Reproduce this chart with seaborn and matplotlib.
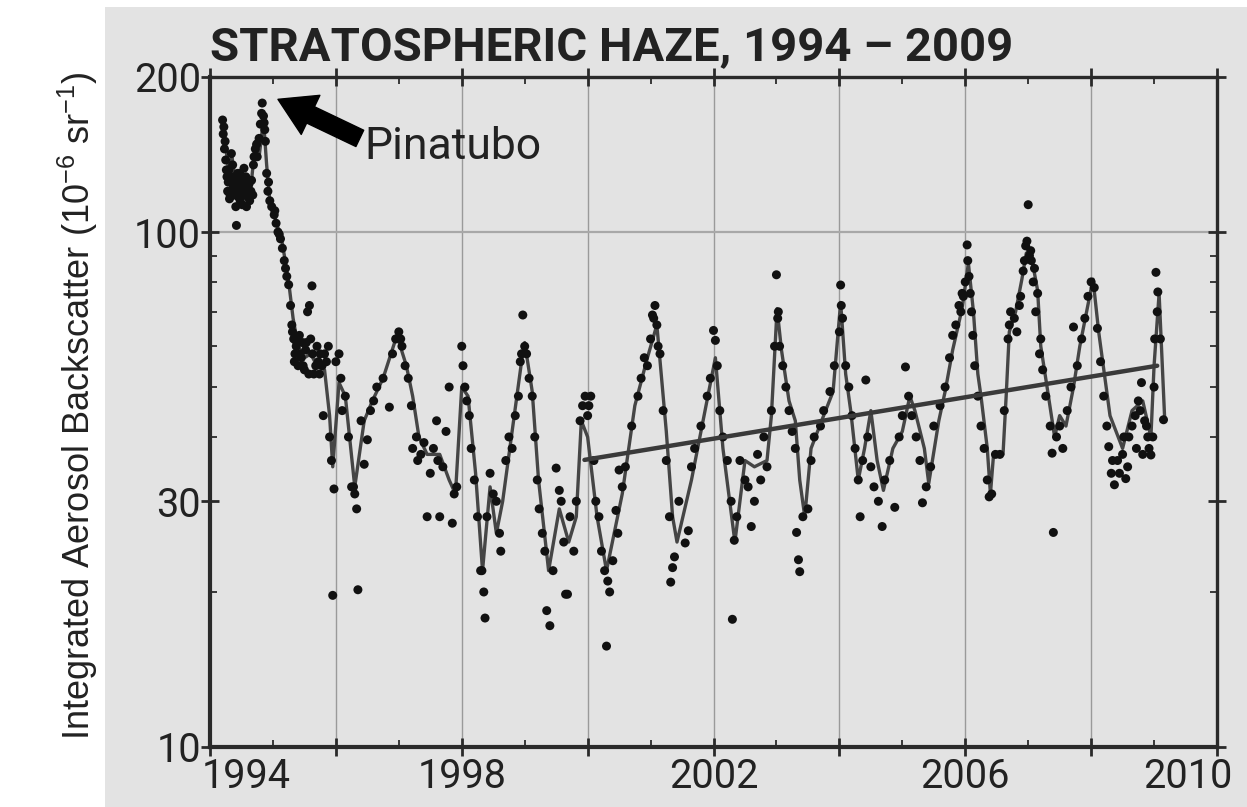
import matplotlib
matplotlib.use("Agg")
import matplotlib.pyplot as plt
import seaborn as sns
from matplotlib.patches import Rectangle
from matplotlib.transforms import ScaledTranslation

# ---------------- data ----------------
line_years = [1994.22, 1994.30, 1994.35, 1994.42, 1994.50, 1994.58, 1994.65, 1994.72, 1994.78, 1994.85,
              1994.90, 1994.95, 1995.05, 1995.15, 1995.25, 1995.32, 1995.40, 1995.50, 1995.60, 1995.70,
              1995.82, 1995.90, 1995.95, 1996.05, 1996.15, 1996.30, 1996.45, 1996.58, 1996.75, 1996.97,
              1997.12, 1997.22, 1997.32, 1997.45, 1997.65, 1997.80, 1997.90, 1998.00, 1998.10, 1998.22,
              1998.33, 1998.45, 1998.55, 1998.65, 1998.80, 1998.95, 1999.00, 1999.12, 1999.22, 1999.38,
              1999.55, 1999.70, 1999.82, 1999.90, 2000.00, 2000.15, 2000.30, 2000.55, 2000.75, 2000.95,
              2001.10, 2001.25, 2001.35, 2001.42, 2001.65, 2001.85, 2002.03, 2002.15, 2002.34, 2002.50,
              2002.65, 2002.85, 2002.92, 2003.01, 2003.08, 2003.20, 2003.30, 2003.37, 2003.45, 2003.55,
              2003.75, 2003.90, 2004.02, 2004.10, 2004.18, 2004.30, 2004.40, 2004.50, 2004.60, 2004.70,
              2004.85, 2005.00, 2005.12, 2005.20, 2005.35, 2005.42, 2005.58, 2005.68, 2005.80, 2005.95,
              2006.05, 2006.13, 2006.20, 2006.25, 2006.35, 2006.40, 2006.45, 2006.60, 2006.65, 2006.70,
              2006.80, 2006.90, 2006.97, 2007.07, 2007.15, 2007.20, 2007.30, 2007.42, 2007.50, 2007.60,
              2007.72, 2007.82, 2008.03, 2008.12, 2008.22, 2008.30, 2008.50, 2008.65, 2008.82, 2008.95,
              2009.00, 2009.08, 2009.17]
line_vals = [158, 130, 140, 120, 128, 118, 122, 150, 140, 165,
             135, 115, 105, 95, 80, 68, 60, 57, 58, 55,
             54, 44, 35, 51, 48, 32, 43, 47, 52, 63,
             55, 48, 40, 37, 37, 33, 31, 50, 48, 34,
             22, 32, 26, 30, 41, 56, 61, 49, 33, 22,
             29, 25, 28, 43, 40, 28, 22, 31, 46, 57,
             66, 41, 28, 25, 33, 44, 57, 38, 25, 36,
             35, 36, 44, 71, 59, 47, 43, 33, 28, 38,
             44, 49, 73, 53, 45, 33, 38, 45, 36, 31.5,
             38, 41, 48, 45, 38, 32.5, 43, 49, 59, 71,
             87, 70, 53, 48, 38, 31, 37, 37, 48, 64,
             70, 81, 91, 87, 77, 60, 50, 40, 44, 42,
             50, 60, 81, 64, 52, 44, 38, 45, 47, 40,
             55, 76, 43]

dot_years = [1994.20, 1994.22, 1994.24, 1994.25, 1994.27, 1994.28, 1994.30, 1994.31, 1994.33, 1994.34,
             1994.36, 1994.37, 1994.38, 1994.40, 1994.41, 1994.42, 1994.44, 1994.46, 1994.48, 1994.50,
             1994.52, 1994.54, 1994.56, 1994.58, 1994.60, 1994.62, 1994.65, 1994.68, 1994.70, 1994.72,
             1994.75, 1994.78, 1994.80, 1994.83, 1994.85, 1994.87, 1994.90, 1994.92, 1994.95, 1994.98,
             1995.02, 1995.05, 1995.08, 1995.12, 1995.15, 1995.18, 1995.22, 1995.25, 1995.28, 1995.30,
             1995.33, 1995.35, 1995.37, 1995.40, 1995.42, 1995.45, 1995.47, 1995.50, 1995.52, 1995.55,
             1995.58, 1995.60, 1995.62, 1995.65, 1995.70, 1995.72, 1995.75, 1995.78, 1995.80, 1995.82,
             1995.88, 1995.90, 1995.93, 1995.95, 1995.97, 1996.00, 1996.05, 1996.08, 1996.10, 1996.15,
             1996.20, 1996.25, 1996.28, 1996.30, 1996.33, 1996.35, 1996.40, 1996.45, 1996.50, 1996.55,
             1996.60, 1996.65, 1996.75, 1996.85, 1996.90, 1996.95, 1997.00, 1997.05, 1997.10, 1997.15,
             1997.20, 1997.22, 1997.28, 1997.30, 1997.35, 1997.40, 1997.45, 1997.50, 1997.55, 1997.60,
             1997.62, 1997.65, 1997.70, 1997.75, 1997.80, 1997.85, 1997.88, 1997.92, 1998.00, 1998.02,
             1998.05, 1998.08, 1998.12, 1998.15, 1998.20, 1998.25, 1998.30, 1998.32, 1998.35, 1998.37,
             1998.40, 1998.45, 1998.50, 1998.55, 1998.60, 1998.62, 1998.70, 1998.75, 1998.80, 1998.85,
             1998.90, 1998.93, 1998.97, 1999.00, 1999.03, 1999.07, 1999.12, 1999.16, 1999.20, 1999.23,
             1999.28, 1999.32, 1999.35, 1999.40, 1999.45, 1999.50, 1999.55, 1999.58, 1999.62, 1999.65,
             1999.68, 1999.72, 1999.78, 1999.82, 1999.88, 1999.92, 1999.96, 2000.00, 2000.05, 2000.10,
             2000.13, 2000.18, 2000.22, 2000.27, 2000.30, 2000.32, 2000.35, 2000.40, 2000.45, 2000.48,
             2000.50, 2000.55, 2000.60, 2000.70, 2000.80, 2000.85, 2000.90, 2000.95, 2001.00, 2001.03,
             2001.07, 2001.10, 2001.15, 2001.20, 2001.25, 2001.30, 2001.32, 2001.35, 2001.38, 2001.45,
             2001.55, 2001.60, 2001.65, 2001.70, 2001.80, 2001.90, 2001.95, 2002.00, 2002.03, 2002.06,
             2002.10, 2002.15, 2002.22, 2002.28, 2002.30, 2002.33, 2002.37, 2002.42, 2002.50, 2002.55,
             2002.60, 2002.65, 2002.70, 2002.75, 2002.80, 2002.85, 2002.92, 2002.97, 2003.00, 2003.02,
             2003.05, 2003.10, 2003.15, 2003.20, 2003.25, 2003.30, 2003.32, 2003.35, 2003.37, 2003.42,
             2003.50, 2003.55, 2003.60, 2003.70, 2003.75, 2003.85, 2003.92, 2004.00, 2004.02, 2004.05,
             2004.10, 2004.15, 2004.20, 2004.25, 2004.30, 2004.33, 2004.37, 2004.42, 2004.45, 2004.50,
             2004.55, 2004.62, 2004.68, 2004.72, 2004.80, 2004.88, 2004.95, 2005.00, 2005.05, 2005.10,
             2005.15, 2005.22, 2005.28, 2005.32, 2005.38, 2005.45, 2005.50, 2005.60, 2005.68, 2005.75,
             2005.80, 2005.85, 2005.90, 2005.95, 2006.00, 2006.03, 2006.06, 2006.10, 2006.15, 2006.20,
             2006.25, 2006.30, 2006.35, 2006.38, 2006.42, 2006.48, 2006.55, 2006.62, 2006.68, 2006.72,
             2006.78, 2006.82, 2006.88, 2006.92, 2006.96, 2007.00, 2007.02, 2007.05, 2007.10, 2007.15,
             2007.20, 2007.23, 2007.28, 2007.35, 2007.38, 2007.40, 2007.45, 2007.50, 2007.55, 2007.62,
             2007.68, 2007.72, 2007.78, 2007.85, 2007.90, 2007.95, 2008.00, 2008.05, 2008.10, 2008.15,
             2008.20, 2008.25, 2008.28, 2008.32, 2008.37, 2008.42, 2008.50, 2008.55, 2008.60, 2008.70,
             2008.75, 2008.80, 2008.85, 2008.90, 2008.95, 2009.00, 2009.03, 2009.06, 2009.10, 2009.15]
dot_vals = [165, 160, 150, 138, 128, 120, 132, 116, 125, 142,
            135, 122, 118, 128, 112, 103, 130, 122, 115, 126,
            118, 133, 120, 112, 117, 124, 120, 118, 140, 145,
            140, 152, 162, 178, 168, 158, 130, 120, 115, 112,
            108, 104, 100, 97, 93, 88, 82, 79, 72, 66,
            62, 58, 60, 55, 63, 57, 61, 54, 59, 70,
            72, 62, 78.6, 53, 60, 56, 58, 55, 44, 58,
            60, 40, 36, 19.7, 31.7, 56, 58, 52, 45, 48,
            40, 32, 32, 31, 29, 20.2, 43, 35.4, 39.5, 45,
            47, 50, 52, 45.7, 58, 62, 64, 60, 55, 52,
            46, 38, 40, 36, 37, 39, 28, 34, 38, 43,
            36, 28, 35, 41, 50, 27.2, 31, 32, 60, 55,
            50, 47, 44, 38, 33, 28, 22, 22, 20, 17.8,
            28, 34, 31, 30, 26, 24, 36, 40, 38, 44,
            48, 56, 69, 60, 58, 52, 48, 40, 33, 29,
            26, 24, 18.4, 17.2, 22, 34.8, 31.5, 30, 25, 19.8,
            19.8, 28, 24, 30, 43, 46, 48, 44, 48, 36,
            30, 28, 24, 22, 15.7, 21, 20, 23, 28.8, 26,
            34.5, 32, 35, 42, 48, 52, 57, 55, 62, 69,
            72, 66, 58, 45, 36, 28, 20.9, 22.3, 23.4, 30,
            24.9, 26.3, 35, 38, 42, 48, 52, 64.4, 61.6, 55,
            45, 40, 36, 30, 17.7, 25.2, 28, 36, 33, 32,
            26.8, 30, 37, 33, 40, 35, 45, 60, 82.6, 68,
            60, 55, 50, 45, 41, 38, 26.1, 23.1, 21.9, 28,
            29, 36, 40, 42, 45, 49, 55, 64, 78.9, 68,
            55, 50, 44, 38, 33, 28, 36, 51.6, 40, 35,
            32, 30, 26.8, 33, 36, 29.2, 40, 44, 54.7, 48,
            44, 40, 36, 29.8, 32, 35, 42, 46, 50, 57,
            63, 66, 72, 76, 80, 94.4, 82, 70, 55, 48,
            42, 38, 33, 30.6, 31, 37, 37, 45, 62, 70,
            68, 64, 75, 84, 94, 113, 90, 88, 85, 76,
            62, 54, 48, 42, 37.2, 26.1, 40, 42, 38, 45,
            50, 65.4, 55, 62, 68, 75, 80, 78, 65, 56,
            48, 42, 38.3, 34, 32.3, 36, 37, 33.2, 40, 44,
            47, 51, 43, 40, 36.9, 50, 83.5, 76.5, 62, 43.2]

# additional observations in the densest clusters
extra_years = [1994.21, 1994.23, 1994.26, 1994.29, 1994.32, 1994.35, 1994.39, 1994.43, 1994.45, 1994.47,
               1994.49, 1994.51, 1994.53, 1994.57, 1994.59, 1994.63, 1994.66, 1994.69, 1994.74, 1994.82,
               1994.86, 1994.88, 1994.93, 1995.03, 1995.10, 1995.20, 1995.31, 1995.34, 1995.38, 1995.43,
               1995.48, 1995.53, 1995.57, 1995.63, 1995.68, 1995.74, 1995.85, 1997.03, 1998.95, 2000.02,
               2001.05, 2001.12, 2003.03, 2004.03, 2005.93, 2005.97, 2006.04, 2006.08, 2006.12, 2006.70,
               2006.86, 2006.94, 2006.98, 2007.04, 2007.08, 2007.12, 2007.18, 2008.34, 2008.45, 2008.52,
               2008.58, 2008.65, 2008.72, 2008.78, 2008.82, 2008.88, 2008.92, 2008.98, 2009.01, 2009.05]
extra_vals = [155, 145, 132, 125, 118, 128, 121, 125, 117, 130,
              120, 113, 124, 128, 121, 115, 126, 135, 148, 170,
              163, 150, 125, 110, 99, 85, 64, 56, 61, 58,
              55, 61, 53, 58, 55, 53, 56, 62, 58, 46,
              68, 60, 70, 72, 70, 75, 88, 76, 63, 66,
              72, 88, 96, 92, 80, 70, 58, 36, 34, 40,
              35, 42, 38, 45, 37, 42, 38, 40, 62, 70]

trend_years = [1999.95, 2009.05]
trend_vals = [36.1, 55.0]

x_major = [1994, 1996, 1998, 2000, 2002, 2004, 2006, 2008, 2010]
x_labels = ["1994", "", "1998", "", "2002", "", "2006", "", "2010"]
x_minor = [1995, 1997, 1999, 2001, 2003, 2005, 2007, 2009]
y_major = [10, 30, 100, 200]
y_labels = ["10", "30", "100", "200"]
y_minor = [20, 40, 50, 60, 70, 80, 90]

title_text = "STRATOSPHERIC HAZE, 1994 \u2013 2009"
ylabel_text = r"Integrated Aerosol Backscatter (10$^{-6}$ sr$^{-1}$)"
note_text = "Pinatubo"

# ---------------- style ----------------
sns.set_theme(style="white")
plt.rcParams["font.family"] = ["Roboto", "DejaVu Sans"]
plt.rcParams["mathtext.default"] = "regular"
FAM = ["Roboto", "DejaVu Sans"]

BG = "#e3e3e3"
INK = "#222222"

fig = plt.figure(figsize=(12.47, 8.07), dpi=100, facecolor=BG)
fig.patches.append(Rectangle((0, 0), 105 / 1247, 1, transform=fig.transFigure,
                             facecolor="white", edgecolor="none", zorder=-5))
fig.patches.append(Rectangle((0, 1 - 7 / 807), 1, 7 / 807, transform=fig.transFigure,
                             facecolor="white", edgecolor="none", zorder=-5))

ax = fig.add_axes([210 / 1247, 60 / 807, 1007 / 1247, 670 / 807])
ax.set_facecolor(BG)

# grid lines
for xv in x_major[1:-1]:
    ax.axvline(xv, color="#9a9a9a", lw=1.0, zorder=0)
ax.axhline(100, color="#a8a8a8", lw=1.6, zorder=0)

sns.lineplot(x=line_years, y=line_vals, sort=False, estimator=None, ax=ax,
             color="#454545", lw=2.4, zorder=2)
sns.scatterplot(x=dot_years + extra_years, y=dot_vals + extra_vals, ax=ax, s=42,
                color="#111111", edgecolor="none", linewidth=0, zorder=3)
sns.lineplot(x=trend_years, y=trend_vals, sort=False, estimator=None, ax=ax,
             color="#3a3a3a", lw=3.2, zorder=4)

ax.set_yscale("log")
ax.set_xlim(1994, 2010)
ax.set_ylim(10, 200)

ax.set_xticks(x_major)
ax.set_xticklabels(x_labels)
ax.set_xticks(x_minor, minor=True)
ax.set_yticks(y_major)
ax.set_yticklabels(y_labels)
ax.set_yticks(y_minor, minor=True)
ax.yaxis.set_minor_formatter(matplotlib.ticker.NullFormatter())

ax.tick_params(axis="both", which="major", direction="inout", length=13, width=2.0,
               color="#2a2a2a", labelsize=28.5, labelcolor=INK,
               top=True, right=True, bottom=True, left=True)
ax.tick_params(axis="both", which="minor", direction="in", length=5, width=1.3,
               color="#2a2a2a", top=True, right=True, bottom=True, left=True)
ax.tick_params(axis="x", which="major", pad=1)
ax.tick_params(axis="y", which="major", pad=0)
for lab in ax.get_xticklabels() + ax.get_yticklabels():
    lab.set_family(FAM)

for side, w in (("left", 3.0), ("bottom", 3.0), ("top", 2.4), ("right", 2.4)):
    ax.spines[side].set_visible(True)
    ax.spines[side].set_linewidth(w)
    ax.spines[side].set_color("#2a2a2a")

# shift edge x tick labels inward as in the reference
xt = ax.get_xticklabels()
xt[0].set_transform(xt[0].get_transform() + ScaledTranslation(0.36, 0, fig.dpi_scale_trans))
xt[-1].set_transform(xt[-1].get_transform() + ScaledTranslation(-0.29, 0, fig.dpi_scale_trans))

ax.set_xlabel("")
ax.set_ylabel("")

# title
fig.text(210 / 1247, 1 - 60 / 807, title_text, ha="left", va="baseline",
         fontsize=34, fontweight="bold", color=INK, family=FAM)

# y label
fig.text(78 / 1247, 0.497, ylabel_text, rotation=90, ha="center", va="center",
         fontsize=26, color=INK, family=["Liberation Sans", "DejaVu Sans"])

# Pinatubo annotation
ax.annotate("", xy=(1995.08, 181), xytext=(1996.38, 152),
            arrowprops=dict(arrowstyle="simple,head_length=1.0,head_width=1.2,tail_width=0.5",
                            color="black", mutation_scale=26, shrinkA=0, shrinkB=0),
            zorder=5)
ax.text(1996.45, 146, note_text, ha="left", va="center", fontsize=32, color=INK,
        family=FAM, zorder=5)

fig.savefig("out.png", dpi=100, facecolor=BG)
